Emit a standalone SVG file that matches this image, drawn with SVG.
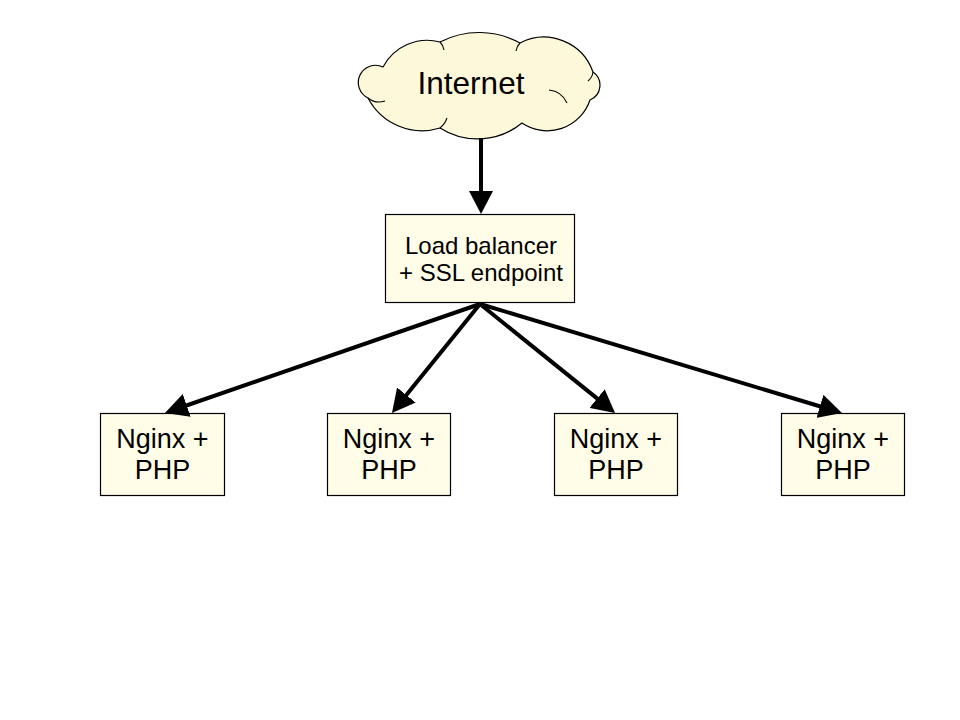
<svg xmlns="http://www.w3.org/2000/svg" width="960" height="720" viewBox="0 0 960 720">
<style>
.box{fill:#fffde8;stroke:#000;stroke-width:1.2}
.cloud{fill:#fdf8d9;stroke:#000;stroke-width:1.2;stroke-linejoin:round}
.inner{fill:none;stroke:#000;stroke-width:1.1}
.t{font-family:"Liberation Sans",Arial,sans-serif;fill:#000;text-anchor:middle}
.conn{stroke:#000;stroke-width:4;fill:none}
</style>
<defs>
<marker id="ah" markerUnits="userSpaceOnUse" markerWidth="24" markerHeight="24" refX="11" refY="12" orient="auto">
<path d="M0,0 L23,12 L0,24 z" fill="#000"/>
</marker>
</defs>
<rect width="960" height="720" fill="#fff"/>
<g id="internet">
<path class="cloud" d="M383,67 A50,50 0 0 1 440,42 A85,85 0 0 1 520,43 A52,52 0 0 1 593,72 A16,16 0 0 1 590,100 A45,45 0 0 1 522,123 A70,70 0 0 1 440,128 A61,61 0 0 1 368,98 A17,17 0 0 1 383,67 z"/>
<path class="inner" d="M368,98 A18,18 0 0 0 385,101"/>
<path class="inner" d="M549,90 A22,22 0 0 1 567,103"/>
<path class="inner" d="M440,128 A22,22 0 0 0 447,118"/>
<path class="inner" d="M440,42 A14,14 0 0 1 444,50"/>
<path class="inner" d="M520,43 A14,14 0 0 0 516,51"/>
<path class="inner" d="M593,72 A14,14 0 0 1 588,81"/>
<text class="t" x="471" y="94" font-size="31.5">Internet</text>
</g>
<g id="lb">
<rect class="box" x="385.5" y="214.5" width="189" height="88"/>
<text class="t" x="481" y="254" font-size="24">Load balancer</text>
<text class="t" x="481" y="281" font-size="24">+ SSL endpoint</text>
</g>
<g id="n1">
<rect class="box" x="100.5" y="413.5" width="124" height="82"/>
<text class="t" x="162.5" y="448" font-size="27">Nginx +</text>
<text class="t" x="162.5" y="479" font-size="27">PHP</text>
</g>
<g id="n2">
<rect class="box" x="327.5" y="413.5" width="123" height="82"/>
<text class="t" x="389" y="448" font-size="27">Nginx +</text>
<text class="t" x="389" y="479" font-size="27">PHP</text>
</g>
<g id="n3">
<rect class="box" x="554.5" y="413.5" width="123" height="82"/>
<text class="t" x="616" y="448" font-size="27">Nginx +</text>
<text class="t" x="616" y="479" font-size="27">PHP</text>
</g>
<g id="n4">
<rect class="box" x="781.5" y="413.5" width="123" height="82"/>
<text class="t" x="843" y="448" font-size="27">Nginx +</text>
<text class="t" x="843" y="479" font-size="27">PHP</text>
</g>
<g id="connectors">
<line class="conn" x1="481" y1="138" x2="481" y2="202" marker-end="url(#ah)"/>
<line class="conn" x1="480" y1="304" x2="176.3" y2="409" marker-end="url(#ah)"/>
<line class="conn" x1="480" y1="304" x2="399.5" y2="403.6" marker-end="url(#ah)"/>
<line class="conn" x1="480" y1="304" x2="605.7" y2="405.4" marker-end="url(#ah)"/>
<line class="conn" x1="480" y1="304" x2="830.5" y2="409.5" marker-end="url(#ah)"/>
</g>
</svg>
